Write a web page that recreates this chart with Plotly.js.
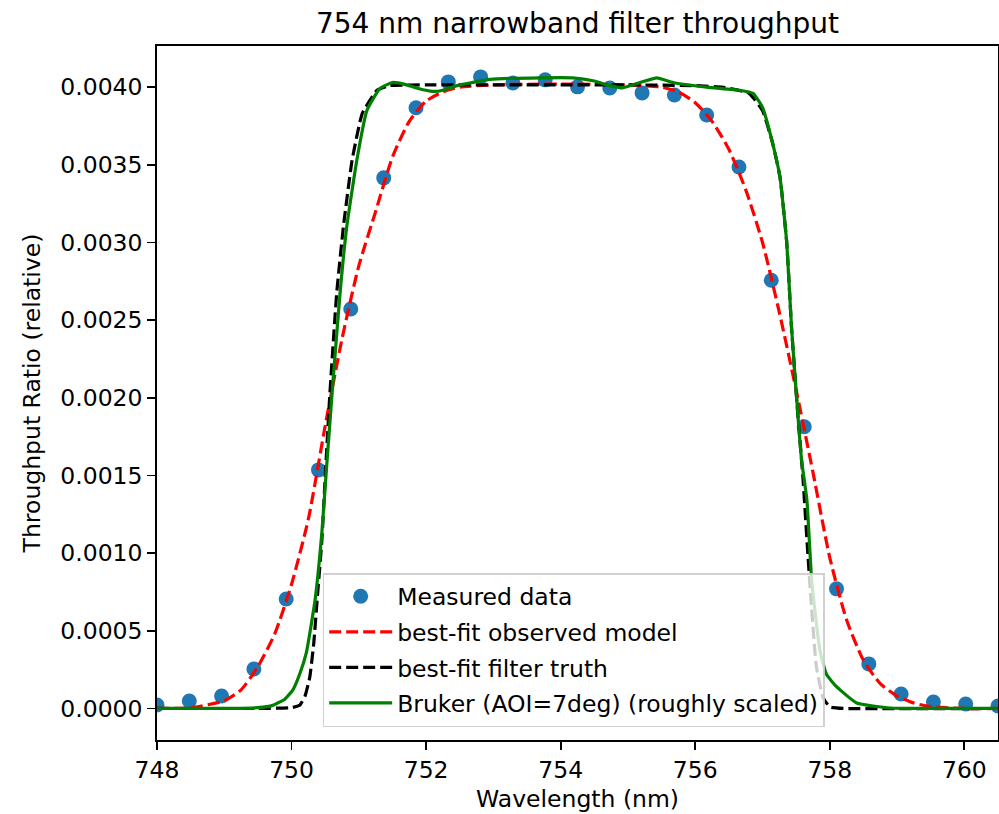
<!DOCTYPE html>
<html>
<head>
<meta charset="utf-8">
<script src="https://cdn.plot.ly/plotly-3.0.1.min.js"></script>
<style>html,body{margin:0;padding:0;background:#fff;}</style>
</head>
<body>
<div id="chart" style="width:999px;height:814px;"></div>
<script>
// Measured data (wavelength nm, throughput ratio)
const measX = [748.0, 748.48, 748.96, 749.44, 749.92, 750.4, 750.88, 751.37, 751.85, 752.33, 752.81, 753.29, 753.77, 754.25, 754.73, 755.21, 755.69, 756.17, 756.65, 757.13, 757.62, 758.1, 758.58, 759.06, 759.54, 760.02, 760.5];
const measY = [0.000022, 0.000048, 0.00008, 0.000254, 0.000705, 0.001536, 0.002572, 0.003416, 0.003867, 0.004034, 0.004066, 0.004027, 0.004047, 0.004002, 0.003995, 0.003963, 0.00395, 0.003821, 0.003486, 0.002757, 0.001814, 0.00077, 0.000287, 0.000093, 0.000042, 0.000029, 0.000016];

// best-fit observed model (red dashed)
const modelX = [748.0, 748.5, 749.0, 749.25, 749.5, 749.75, 750.0, 750.25, 750.5, 750.75, 751.0, 751.25, 751.5, 751.75, 752.0, 752.25, 752.5, 753.0, 754.0, 755.0, 755.5, 755.75, 756.0, 756.25, 756.5, 756.75, 757.0, 757.25, 757.5, 757.75, 758.0, 758.25, 758.5, 758.75, 759.0, 759.25, 759.5, 760.0, 760.5];
const modelY = [0.0, 0.000005, 0.00005, 0.00012, 0.00027, 0.00048, 0.0008, 0.00122, 0.00182, 0.00238, 0.00285, 0.0032, 0.00355, 0.00378, 0.00391, 0.00397, 0.004, 0.004015, 0.00402, 0.004015, 0.004, 0.00397, 0.0039, 0.00378, 0.0036, 0.00334, 0.003, 0.00255, 0.00205, 0.00152, 0.00097, 0.00057, 0.00031, 0.00016, 0.00008, 0.000035, 0.000012, 0.0, 0.0];

// best-fit filter truth (black dashed)
const truthX = [748.0, 749.5, 750.0, 750.12, 750.2, 750.27, 750.33, 750.38, 750.45, 750.5, 750.57, 750.67, 750.77, 750.9, 751.05, 751.27, 751.46, 752.0, 753.0, 754.0, 755.0, 756.0, 756.4, 756.8, 757.0, 757.15, 757.26, 757.36, 757.43, 757.52, 757.6, 757.67, 757.72, 757.8, 757.9, 758.0, 758.2, 760.5];
const truthY = [0.0, 0.0, 0.000005, 0.00002, 0.00008, 0.0002, 0.00042, 0.0007, 0.00108, 0.00149, 0.00203, 0.00267, 0.0031, 0.00353, 0.00383, 0.00398, 0.00401, 0.004015, 0.004015, 0.004015, 0.004015, 0.00401, 0.004, 0.00396, 0.00385, 0.00364, 0.00342, 0.003, 0.00246, 0.00192, 0.00149, 0.00102, 0.0007, 0.00027, 0.00007, 0.00001, 0.0, 0.0];

// Bruker (AOI=7deg) (roughly scaled) (green solid)
const brukerX = [748.0, 749.0, 749.5, 749.72, 749.9, 750.02, 750.12, 750.22, 750.35, 750.45, 750.52, 750.62, 750.72, 750.82, 750.97, 751.12, 751.31, 751.5, 751.71, 751.9, 752.06, 752.2, 752.46, 752.95, 753.69, 754.18, 754.5, 754.69, 754.92, 755.18, 755.43, 755.67, 756.17, 756.66, 756.86, 757.0, 757.15, 757.26, 757.36, 757.43, 757.52, 757.58, 757.66, 757.73, 757.85, 757.95, 758.1, 758.4, 758.9, 759.5, 760.5];
const brukerY = [0.0, 0.0, 0.000005, 0.00002, 0.00006, 0.00012, 0.00022, 0.00036, 0.0007, 0.00113, 0.00155, 0.00213, 0.00267, 0.0031, 0.00353, 0.00385, 0.00399, 0.00403, 0.004015, 0.00399, 0.003975, 0.003975, 0.00401, 0.00405, 0.00406, 0.00406, 0.00404, 0.004015, 0.003995, 0.00403, 0.00406, 0.00403, 0.004, 0.00398, 0.00396, 0.00387, 0.00364, 0.00342, 0.003, 0.00246, 0.00192, 0.0016, 0.00134, 0.00083, 0.00038, 0.00022, 0.00014, 0.000035, 0.000003, 0.0, 0.0];

const yTicks = [0, 0.0005, 0.001, 0.0015, 0.002, 0.0025, 0.003, 0.0035, 0.004];
const xTicks = [748, 750, 752, 754, 756, 758, 760];

const FONT = 'DejaVu Sans, Liberation Sans, sans-serif';
const FS = 23.5;
const dashPat = '12px,5px';

const traces = [
  {x: measX, y: measY, type: 'scatter', mode: 'markers', name: 'Measured data', legendgroup: 'a',
   marker: {color: '#1f77b4', size: 15, line: {width: 0}}},
  {x: modelX, y: modelY, type: 'scatter', mode: 'lines', name: 'best-fit observed model', legendgroup: 'b',
   line: {color: '#ff0000', width: 3.2, dash: dashPat, shape: 'spline', smoothing: 0.6}},
  {x: truthX, y: truthY, type: 'scatter', mode: 'lines', name: 'best-fit filter truth', legendgroup: 'c',
   line: {color: '#000000', width: 3.2, dash: dashPat, shape: 'spline', smoothing: 0.4}},
  {x: brukerX, y: brukerY, type: 'scatter', mode: 'lines', name: 'Bruker (AOI=7deg) (roughly scaled)', legendgroup: 'd',
   line: {color: '#008000', width: 3.2, shape: 'spline', smoothing: 0.4}}
];

const layout = {
  width: 999, height: 814,
  margin: {l: 157, r: 1, t: 46, b: 74},
  paper_bgcolor: '#ffffff', plot_bgcolor: '#ffffff',
  font: {family: FONT, size: FS, color: '#000000'},
  showlegend: true,
  title: {text: '754 nm narrowband filter throughput', font: {family: FONT, size: 28, color: '#000'},
          x: 0.5, xref: 'paper', y: 0.972, yref: 'container', yanchor: 'middle'},
  xaxis: {
    range: [748, 760.5], tickvals: xTicks, ticktext: xTicks.map(String),
    ticks: 'outside', ticklen: 8, tickwidth: 1.8, tickcolor: '#000',
    showline: true, linecolor: '#000', linewidth: 1.8, mirror: true,
    showgrid: false, zeroline: false,
    tickfont: {family: FONT, size: FS, color: '#000'},
    title: {text: 'Wavelength (nm)', font: {family: FONT, size: FS, color: '#000'}, standoff: 7}
  },
  yaxis: {
    range: [-0.000203, 0.004265], tickvals: yTicks, ticktext: yTicks.map(v => v.toFixed(4)),
    ticks: 'outside', ticklen: 8, tickwidth: 1.8, tickcolor: '#000',
    showline: true, linecolor: '#000', linewidth: 1.8, mirror: true,
    showgrid: false, zeroline: false,
    tickfont: {family: FONT, size: FS, color: '#000'},
    title: {text: 'Throughput Ratio (relative)', font: {family: FONT, size: FS, color: '#000'}, standoff: 13}
  },
  legend: {
    x: 0.197, y: 0.0187, xanchor: 'left', yanchor: 'bottom',
    bgcolor: 'rgba(255,255,255,0.8)', bordercolor: 'rgba(204,204,204,0.9)', borderwidth: 1.5,
    font: {family: FONT, size: FS, color: '#000'},
    tracegroupgap: 2, itemwidth: 63, traceorder: 'grouped'
  }
};

Plotly.newPlot('chart', traces, layout, {displayModeBar: false, staticPlot: true});
</script>
</body>
</html>
